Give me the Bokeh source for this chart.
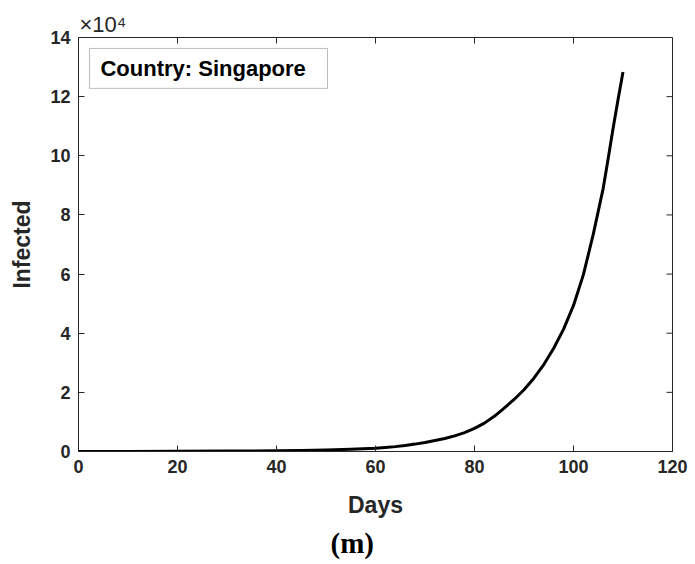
import math
from bokeh.plotting import figure
from bokeh.models import Range1d, FixedTicker, Label, BoxAnnotation, ColumnDataSource, Title
from bokeh.embed import file_html
from bokeh.resources import INLINE

days = [0, 10, 20, 30, 40, 45, 50, 55, 60, 62, 64, 66, 68, 70, 72, 74, 76, 78, 80, 82,
        84, 86, 88, 90, 92, 94, 96, 98, 100, 102, 104, 106, 107, 108, 109, 110]
infected = [10, 25, 60, 130, 250, 330, 480, 720, 1100, 1350, 1650, 2050, 2500, 3050,
            3700, 4400, 5300, 6400, 7800, 9600, 11900, 14700, 17600, 20900, 24800,
            29400, 34900, 41400, 49400, 59800, 73500, 89000, 99000, 109300, 119000, 128300]

x_ticks = [0, 20, 40, 60, 80, 100, 120]
y_ticks = [0, 20000, 40000, 60000, 80000, 100000, 120000, 140000]
y_tick_labels = ["0", "2", "4", "6", "8", "10", "12", "14"]

FONT = "Liberation Sans"
AX = "#262626"

p = figure(frame_width=594, frame_height=414, output_backend="svg", toolbar_location=None,
           x_range=Range1d(0, 120), y_range=Range1d(0, 140000),
           min_border_left=78, min_border_right=20, min_border_top=37, min_border_bottom=112)
p.grid.visible = False
p.outline_line_color = AX
p.outline_line_width = 1
p.background_fill_color = "white"
p.border_fill_color = "white"

src = ColumnDataSource(dict(x=days, y=infected))
p.line("x", "y", source=src, line_color="black", line_width=3, line_join="round")

def style(ax):
    ax.axis_line_color = AX
    ax.major_tick_line_color = AX
    ax.major_tick_in = 6
    ax.major_tick_out = 0
    ax.minor_tick_line_color = None
    ax.major_label_text_font = FONT
    ax.major_label_text_font_style = "bold"
    ax.major_label_text_font_size = "18px"
    ax.major_label_text_color = AX
    ax.axis_label_text_font = FONT
    ax.axis_label_text_font_style = "bold"
    ax.axis_label_text_font_size = "23px"
    ax.axis_label_text_color = AX

xa = p.xaxis[0]
xa.ticker = FixedTicker(ticks=x_ticks)
xa.axis_label = "Days"
style(xa)
xa.major_label_standoff = 8
xa.axis_label_standoff = 16

ya = p.yaxis[0]
ya.ticker = FixedTicker(ticks=y_ticks)
ya.major_label_overrides = {t: l for t, l in zip(y_ticks, y_tick_labels)}
ya.axis_label = "Infected"
style(ya)
ya.major_label_standoff = 8
ya.axis_label_standoff = 12

# inward ticks on the top and right edges (box on)
p.ray(x=x_ticks, y=[y_ticks[-1]] * len(x_ticks), length=6, length_units="screen",
      angle=-math.pi / 2, line_color=AX, line_width=1)
p.ray(x=[x_ticks[-1]] * len(y_ticks), y=y_ticks, length=6, length_units="screen",
      angle=math.pi, line_color=AX, line_width=1)

# exponent label above the axes
p.add_layout(Title(text="\u00d710\u2074", align="left", offset=1, standoff=2,
                   text_font=FONT, text_font_size="22px", text_font_style="normal",
                   text_color=AX), "above")

# text box
p.add_layout(BoxAnnotation(left=2.22, right=50.3, top=136300, bottom=122800,
                           fill_color="white", fill_alpha=1, line_color=AX, line_width=1))
p.add_layout(Label(x=4.44, y=129400, text="Country: Singapore", text_font=FONT,
                   text_font_style="bold", text_font_size="22px", text_color="black",
                   text_baseline="middle", text_align="left"))

# panel caption below
p.add_layout(Title(text="(m)", align="left", offset=252, standoff=9,
                   text_font="Liberation Serif", text_font_style="bold", text_font_size="29px",
                   text_color="black"), "below")

open("out.html", "w").write(file_html(p, INLINE))
